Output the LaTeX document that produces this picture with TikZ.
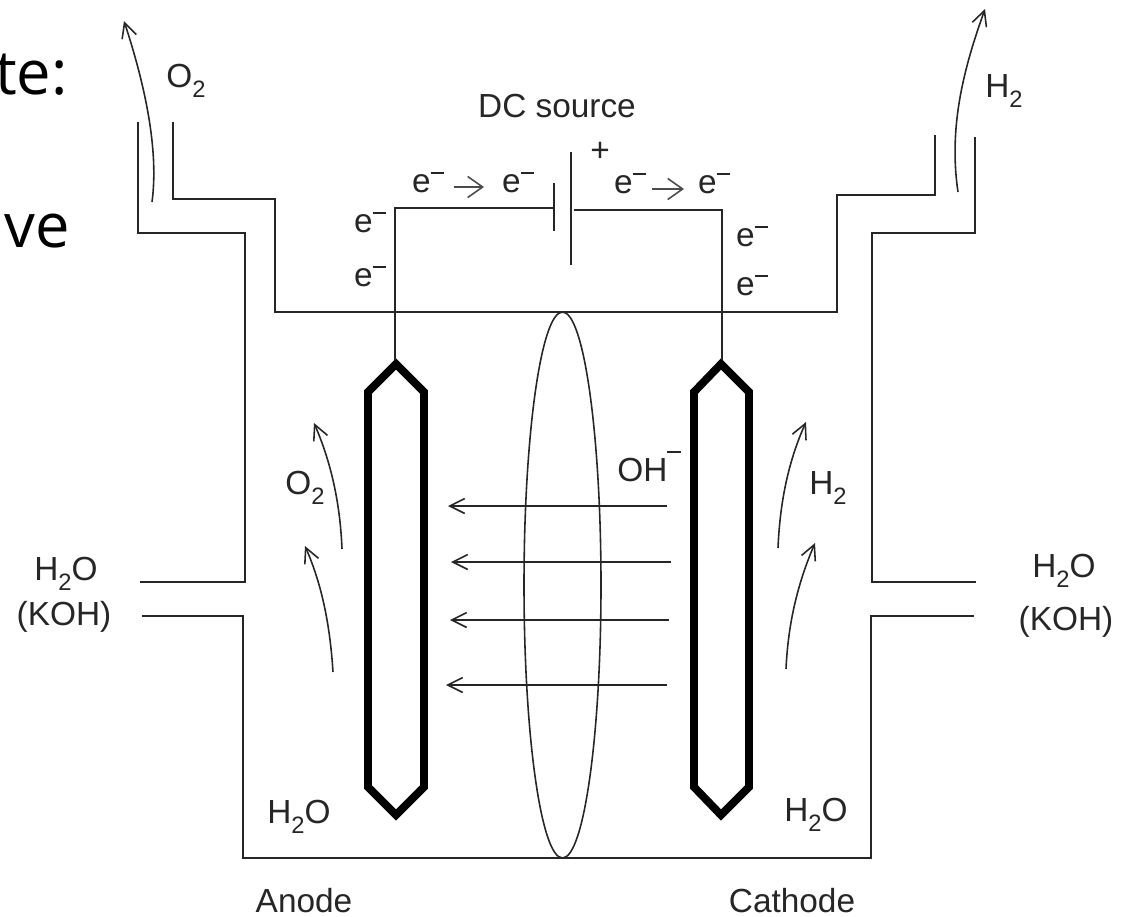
\documentclass[tikz,border=0pt]{standalone}
\usepackage{fontspec}
\setmainfont{Liberation Sans}
\newfontfamily\slidefont{Open Sans}
\usetikzlibrary{arrows.meta}
\newcommand{\subtwo}{\raisebox{-0.32em}{\fontsize{13.5}{14}\selectfont 2}}
\newcommand{\elec}{e\raisebox{0.55em}{\rule{0.4em}{0.055em}}}
\tikzset{
  wall/.style={line width=1.1pt,black!85},
  wire/.style={line width=0.9pt,black!85},
  flow/.style={line width=0.9pt,black!85,-{Straight Barb[length=8.5pt,width=8.5pt]}},
  eflow/.style={line width=0.9pt,black!70,-{Straight Barb[length=8.5pt,width=12pt]}},
  plate/.style={line width=4.5pt,black,miter limit=4},
  lbl/.style={inner sep=0pt,anchor=base,font=\fontsize{19}{22}\selectfont,black!85},
  slide/.style={inner sep=0pt,anchor=base east,font=\slidefont\fontsize{35}{38}\selectfont}
}
\begin{document}
\begin{tikzpicture}[x=0.02cm,y=-0.02cm]
\useasboundingbox (0,0) rectangle (1128,916);
% slide text behind the figure
\node[slide] (t1) at (68,94) {te:};
\node[slide] (t2) at (70,247) {ive};
% cell walls
\draw[wall] (138,122) -- (138,233) -- (245,233) -- (245,582) -- (140,582);
\draw[wall] (173,122) -- (173,199) -- (275,199) -- (275,312) -- (837,312) -- (837,195) -- (935,195) -- (935,135);
\draw[wall] (975,137) -- (975,233) -- (872,233) -- (872,582) -- (976,582);
\draw[wall] (142,616) -- (243,616) -- (243,858) -- (871,858) -- (871,616) -- (974,616);
% diaphragm
\draw[wire] (562.5,585) ellipse (38.5 and 273);
% electrodes
\draw[plate] (396,364) -- (424,392) -- (424,787) -- (396,815) -- (368,787) -- (368,392) -- cycle;
\draw[plate] (721,364) -- (749,392) -- (749,787) -- (721,815) -- (694,787) -- (694,392) -- cycle;
% dc source
\coordinate (anodetop) at (395,360);
\coordinate (cathtop) at (722,360);
\coordinate (neg) at (554,208);
\coordinate (pos) at (574,210);
\draw[wire] (anodetop) |- (neg);
\draw[wire] (pos) -| (cathtop);
\draw[wall] (554,183) -- (554,231);
\draw[wall] (571,152) -- (571,265);
\coordinate (ea1) at (454,187);
\coordinate (ea2) at (484,187);
\coordinate (eb1) at (652,189);
\coordinate (eb2) at (684,189);
\draw[eflow] (ea1) -- (ea2);
\draw[eflow] (eb1) -- (eb2);
% OH- arrows
\draw[flow] (667,506) -- (448,506);
\draw[flow] (671,562) -- (451,562);
\draw[flow] (669,620) -- (450,620);
\draw[flow] (667,685) -- (446,685);
% gas arrows
\draw[flow] (152,202) .. controls (159,150) and (145,85) .. (124,21);
\draw[flow] (958,192) .. controls (948,125) and (965,65) .. (985,9);
\draw[flow] (342,549) .. controls (340,500) and (330,460) .. (314,423);
\draw[flow] (333,672) .. controls (330,625) and (322,585) .. (305,546);
\draw[flow] (778,548) .. controls (780,500) and (789,460) .. (806,422);
\draw[flow] (786,669) .. controls (788,625) and (797,585) .. (815,543);
% labels
\node[lbl] (o2top) at (186,87) {O\subtwo};
\node[lbl] (h2top) at (1004,97) {H\subtwo};
\node[lbl] (dc) at (557,117) {DC source};
\node[lbl] (plus) at (600,161) {+};
\node[lbl] (e1) at (428,192) {\elec};
\node[lbl] (e2) at (518,192) {\elec};
\node[lbl] (e3) at (630,193) {\elec};
\node[lbl] (e4) at (714,193) {\elec};
\node[lbl] (e5) at (370,232) {\elec};
\node[lbl] (e6) at (370,286) {\elec};
\node[lbl] (e7) at (752,246) {\elec};
\node[lbl] (e8) at (752,295) {\elec};
\node[lbl] (o2in) at (305,494) {O\subtwo};
\node[lbl] (h2in) at (828,494) {H\subtwo};
\node[lbl] (oh) at (649,481) {OH\raisebox{0.84em}{\rule{0.4em}{0.055em}}};
\node[lbl] (wl) at (66,580) {H\subtwo O};
\node[lbl] (kl) at (64,625) {(KOH)};
\node[lbl] (wr) at (1064,577) {H\subtwo O};
\node[lbl] (kr) at (1066,630) {(KOH)};
\node[lbl] (wa) at (299,823) {H\subtwo O};
\node[lbl] (wc) at (816,821) {H\subtwo O};
\node[lbl] (an) at (304,912) {Anode};
\node[lbl] (ca) at (792,912) {Cathode};
\end{tikzpicture}
\end{document}
